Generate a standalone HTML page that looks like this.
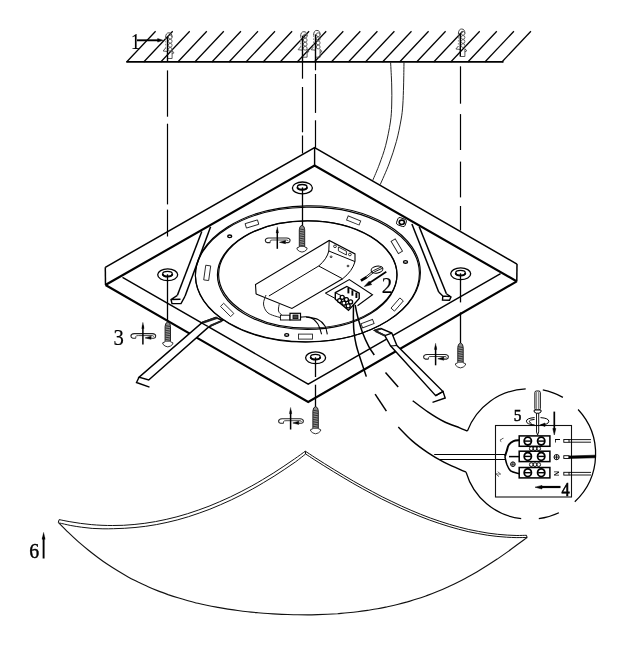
<!DOCTYPE html>
<html><head><meta charset="utf-8"><title>Installation diagram</title>
<style>
html,body{margin:0;padding:0;background:#fff;overflow:hidden;}
svg{display:block}
text{font-family:"Liberation Serif",serif;fill:#000;stroke:#000;stroke-width:0.18px}
svg{will-change:transform;opacity:0.999}
</style></head><body>
<svg width="627" height="649" viewBox="0 0 627 649">
<rect width="627" height="649" fill="#fff"/>
<g fill="none" stroke="#000" stroke-linecap="butt" stroke-linejoin="miter">
<line x1="126.3" y1="61.9" x2="503.5" y2="61.9" stroke-width="1.6" />
<line x1="126.6" y1="62.0" x2="155.6" y2="31.2" stroke-width="1.25" />
<line x1="143.7" y1="62.0" x2="172.7" y2="31.2" stroke-width="1.25" />
<line x1="160.7" y1="62.0" x2="189.7" y2="31.2" stroke-width="1.25" />
<line x1="177.8" y1="62.0" x2="206.8" y2="31.2" stroke-width="1.25" />
<line x1="194.8" y1="62.0" x2="223.8" y2="31.2" stroke-width="1.25" />
<line x1="211.9" y1="62.0" x2="240.9" y2="31.2" stroke-width="1.25" />
<line x1="229.0" y1="62.0" x2="258.0" y2="31.2" stroke-width="1.25" />
<line x1="246.0" y1="62.0" x2="275.0" y2="31.2" stroke-width="1.25" />
<line x1="263.1" y1="62.0" x2="292.1" y2="31.2" stroke-width="1.25" />
<line x1="280.1" y1="62.0" x2="309.1" y2="31.2" stroke-width="1.25" />
<line x1="297.2" y1="62.0" x2="326.2" y2="31.2" stroke-width="1.25" />
<line x1="314.3" y1="62.0" x2="343.3" y2="31.2" stroke-width="1.25" />
<line x1="331.3" y1="62.0" x2="360.3" y2="31.2" stroke-width="1.25" />
<line x1="348.4" y1="62.0" x2="377.4" y2="31.2" stroke-width="1.25" />
<line x1="365.4" y1="62.0" x2="394.4" y2="31.2" stroke-width="1.25" />
<line x1="382.5" y1="62.0" x2="411.5" y2="31.2" stroke-width="1.25" />
<line x1="399.6" y1="62.0" x2="428.6" y2="31.2" stroke-width="1.25" />
<line x1="416.6" y1="62.0" x2="445.6" y2="31.2" stroke-width="1.25" />
<line x1="433.7" y1="62.0" x2="462.7" y2="31.2" stroke-width="1.25" />
<line x1="450.7" y1="62.0" x2="479.7" y2="31.2" stroke-width="1.25" />
<line x1="467.8" y1="62.0" x2="496.8" y2="31.2" stroke-width="1.25" />
<line x1="484.9" y1="62.0" x2="513.9" y2="31.2" stroke-width="1.25" />
<line x1="501.9" y1="62.0" x2="530.9" y2="31.2" stroke-width="1.25" />
<path d="M165.6,37.8 Q165.6,32.8 168.9,32.8 Q172.1,32.8 172.1,37.3" stroke-width="1.0" stroke="#444"/>
<ellipse cx="170.2" cy="37.1" rx="1.9" ry="1.9" stroke-width="0.9" stroke="#555"/>
<ellipse cx="170.2" cy="41.2" rx="1.9" ry="1.9" stroke-width="0.9" stroke="#555"/>
<ellipse cx="170.2" cy="45.3" rx="1.9" ry="1.9" stroke-width="0.9" stroke="#555"/>
<ellipse cx="170.2" cy="49.4" rx="1.9" ry="1.9" stroke-width="0.9" stroke="#555"/>
<line x1="165.6" y1="37.8" x2="165.6" y2="48.5" stroke-width="0.8" stroke="#777" stroke-dasharray="1.6 1.4"/>
<path d="M165.6,48.0 L163.1,51.0 L167.5,51.5" stroke-width="0.9" stroke="#444"/>
<path d="M172.1,51.0 L174.1,52.7 L172.1,53.9" stroke-width="0.9" stroke="#444"/>
<path d="M172.1,50.5 L172.1,58.5 L167.5,58.5" stroke-width="0.9" stroke="#444"/>
<line x1="167.5" y1="36.8" x2="167.5" y2="61.9" stroke-width="1.4" />
<path d="M300.6,36.7 Q300.6,31.7 303.9,31.7 Q307.1,31.7 307.1,36.2" stroke-width="1.0" stroke="#444"/>
<ellipse cx="305.2" cy="36.0" rx="1.9" ry="1.9" stroke-width="0.9" stroke="#555"/>
<ellipse cx="305.2" cy="40.1" rx="1.9" ry="1.9" stroke-width="0.9" stroke="#555"/>
<ellipse cx="305.2" cy="44.2" rx="1.9" ry="1.9" stroke-width="0.9" stroke="#555"/>
<ellipse cx="305.2" cy="48.3" rx="1.9" ry="1.9" stroke-width="0.9" stroke="#555"/>
<line x1="300.6" y1="36.7" x2="300.6" y2="47.2" stroke-width="0.8" stroke="#777" stroke-dasharray="1.6 1.4"/>
<path d="M300.6,46.7 L298.1,49.7 L302.5,50.2" stroke-width="0.9" stroke="#444"/>
<path d="M307.1,49.7 L309.1,51.400000000000006 L307.1,52.6" stroke-width="0.9" stroke="#444"/>
<path d="M307.1,49.2 L307.1,57.2 L302.5,57.2" stroke-width="0.9" stroke="#444"/>
<line x1="302.5" y1="35.7" x2="302.5" y2="61.9" stroke-width="1.4" />
<path d="M313.6,35.4 Q313.6,30.4 316.9,30.4 Q320.1,30.4 320.1,34.9" stroke-width="1.0" stroke="#444"/>
<ellipse cx="318.2" cy="34.7" rx="1.9" ry="1.9" stroke-width="0.9" stroke="#555"/>
<ellipse cx="318.2" cy="38.8" rx="1.9" ry="1.9" stroke-width="0.9" stroke="#555"/>
<ellipse cx="318.2" cy="42.9" rx="1.9" ry="1.9" stroke-width="0.9" stroke="#555"/>
<ellipse cx="318.2" cy="47.0" rx="1.9" ry="1.9" stroke-width="0.9" stroke="#555"/>
<line x1="313.6" y1="35.4" x2="313.6" y2="47.2" stroke-width="0.8" stroke="#777" stroke-dasharray="1.6 1.4"/>
<path d="M313.6,46.7 L311.1,49.7 L315.5,50.2" stroke-width="0.9" stroke="#444"/>
<path d="M320.1,49.7 L322.1,51.400000000000006 L320.1,52.6" stroke-width="0.9" stroke="#444"/>
<path d="M320.1,49.2 L320.1,57.2 L315.5,57.2" stroke-width="0.9" stroke="#444"/>
<line x1="315.5" y1="34.4" x2="315.5" y2="61.9" stroke-width="1.4" />
<path d="M458.40000000000003,34.0 Q458.40000000000003,29.0 461.7,29.0 Q464.90000000000003,29.0 464.90000000000003,33.5" stroke-width="1.0" stroke="#444"/>
<ellipse cx="463.0" cy="33.3" rx="1.9" ry="1.9" stroke-width="0.9" stroke="#555"/>
<ellipse cx="463.0" cy="37.4" rx="1.9" ry="1.9" stroke-width="0.9" stroke="#555"/>
<ellipse cx="463.0" cy="41.5" rx="1.9" ry="1.9" stroke-width="0.9" stroke="#555"/>
<ellipse cx="463.0" cy="45.6" rx="1.9" ry="1.9" stroke-width="0.9" stroke="#555"/>
<line x1="458.4" y1="34.0" x2="458.4" y2="46.5" stroke-width="0.8" stroke="#777" stroke-dasharray="1.6 1.4"/>
<path d="M458.40000000000003,46.0 L455.90000000000003,49.0 L460.3,49.5" stroke-width="0.9" stroke="#444"/>
<path d="M464.90000000000003,49.0 L466.90000000000003,50.7 L464.90000000000003,51.9" stroke-width="0.9" stroke="#444"/>
<path d="M464.90000000000003,48.5 L464.90000000000003,56.5 L460.3,56.5" stroke-width="0.9" stroke="#444"/>
<line x1="460.3" y1="33.0" x2="460.3" y2="56.5" stroke-width="1.4" />
<line x1="167.5" y1="70.4" x2="167.5" y2="116.7" stroke-width="1.2" />
<line x1="167.5" y1="123.7" x2="167.5" y2="204.4" stroke-width="1.2" />
<line x1="167.5" y1="209.6" x2="167.5" y2="236.5" stroke-width="1.2" />
<line x1="302.5" y1="61.0" x2="302.5" y2="78.7" stroke-width="1.2" />
<line x1="302.5" y1="87.0" x2="302.5" y2="132.3" stroke-width="1.2" />
<line x1="302.5" y1="135.5" x2="302.5" y2="153.5" stroke-width="1.2" />
<line x1="315.5" y1="61.0" x2="315.5" y2="70.3" stroke-width="1.2" />
<line x1="315.5" y1="74.0" x2="315.5" y2="112.9" stroke-width="1.2" />
<line x1="315.5" y1="120.3" x2="315.5" y2="147.8" stroke-width="1.2" />
<line x1="460.5" y1="66.3" x2="460.5" y2="103.7" stroke-width="1.2" />
<line x1="460.5" y1="114.1" x2="460.5" y2="150.0" stroke-width="1.2" />
<line x1="460.5" y1="161.6" x2="460.5" y2="197.4" stroke-width="1.2" />
<line x1="460.5" y1="206.0" x2="460.5" y2="230.5" stroke-width="1.2" />
<path d="M390.6,62.3 C390.8,66.1 391.5,77.9 391.7,85.0 C391.9,92.1 391.9,98.8 391.7,105.0 C391.5,111.2 391.4,115.2 390.4,122.0 C389.4,128.8 387.4,138.7 385.6,145.7 C383.8,152.7 381.6,158.2 379.5,164.0 C377.4,169.8 373.8,177.8 372.7,180.5" stroke-width="1.0" stroke="#222"/>
<path d="M404.0,62.3 C403.9,66.1 403.8,77.9 403.6,85.0 C403.4,92.1 403.2,99.2 402.8,105.0 C402.4,110.8 402.1,113.9 401.0,120.0 C399.9,126.1 398.4,134.1 396.4,141.4 C394.4,148.7 391.7,156.8 389.0,164.0 C386.3,171.2 381.7,181.2 380.2,184.6" stroke-width="1.0" stroke="#222"/>
<path d="M105.3,267.3 L314.6,147.5 L517.0,264.1" stroke-width="1.5" />
<line x1="314.6" y1="147.5" x2="314.6" y2="165.5" stroke-width="1.4" />
<line x1="105.3" y1="267.3" x2="105.5" y2="285.0" stroke-width="1.5" />
<line x1="517.0" y1="264.1" x2="516.8" y2="281.4" stroke-width="1.5" />
<path d="M105.8,284.8 L314.6,165.5 L516.5,281.2" stroke-width="2.15" />
<path d="M105.5,285 L308.2,402.0 L516.8,281.4" stroke-width="2.1" />
<path d="M122.5,277.3 L308.2,384.2 L500.6,273.7" stroke-width="1.35" />
<g transform="rotate(-0.9 307.66 274.2)">
<ellipse cx="307.9" cy="273.8" rx="112.5" ry="68.0" stroke-width="1.15" />
<ellipse cx="307.4" cy="274.6" rx="112.0" ry="67.4" stroke-width="1.15" />
</g>
<ellipse cx="307.8" cy="274.4" rx="89.2" ry="53.7" stroke-width="1.15" />
<ellipse cx="307.2" cy="275.1" rx="89.8" ry="54.3" stroke-width="1.15" />
<path d="M59.2,519.6 C61.0,520.0 66.4,521.1 69.9,521.7 C73.5,522.3 77.1,522.9 80.6,523.4 C84.2,523.9 87.8,524.3 91.3,524.6 C94.9,524.9 98.5,525.2 102.0,525.3 C105.6,525.5 109.2,525.5 112.7,525.5 C116.3,525.5 119.9,525.4 123.4,525.3 C127.0,525.1 130.6,524.8 134.1,524.5 C137.7,524.2 141.3,523.8 144.8,523.3 C148.4,522.8 152.0,522.2 155.5,521.6 C159.1,520.9 162.7,520.2 166.2,519.4 C169.8,518.6 173.4,517.7 176.9,516.8 C180.5,515.8 184.1,514.8 187.6,513.7 C191.2,512.6 194.8,511.4 198.3,510.1 C201.9,508.9 205.5,507.6 209.0,506.2 C212.6,504.8 216.2,503.3 219.7,501.7 C223.3,500.2 226.8,498.6 230.4,496.9 C234.0,495.2 237.5,493.4 241.1,491.6 C244.7,489.8 248.2,487.8 251.8,485.9 C255.4,483.9 258.9,481.9 262.5,479.7 C266.1,477.6 269.6,475.4 273.2,473.2 C276.8,470.9 280.3,468.6 283.9,466.2 C287.5,463.8 291.0,461.4 294.6,458.9 C298.2,456.4 303.5,452.5 305.3,451.2" stroke-width="1.0" stroke="#111"/>
<path d="M305.3,451.2 C306.9,452.2 311.7,455.4 314.9,457.5 C318.1,459.5 321.3,461.6 324.5,463.6 C327.7,465.6 330.9,467.6 334.2,469.6 C337.4,471.6 340.6,473.5 343.8,475.4 C347.0,477.3 350.2,479.2 353.4,481.1 C356.6,482.9 359.8,484.7 363.0,486.5 C366.2,488.3 369.4,490.0 372.6,491.7 C375.8,493.5 379.0,495.1 382.2,496.8 C385.4,498.4 388.7,500.0 391.9,501.5 C395.1,503.1 398.3,504.6 401.5,506.1 C404.7,507.5 407.9,508.9 411.1,510.3 C414.3,511.7 417.5,513.0 420.7,514.3 C423.9,515.6 427.1,516.8 430.3,518.0 C433.5,519.1 436.7,520.3 439.9,521.3 C443.1,522.4 446.4,523.4 449.6,524.4 C452.8,525.3 456.0,526.2 459.2,527.1 C462.4,527.9 465.6,528.7 468.8,529.5 C472.0,530.2 475.2,530.8 478.4,531.4 C481.6,532.0 484.8,532.6 488.0,533.1 C491.2,533.5 494.4,533.9 497.6,534.3 C500.9,534.6 504.1,534.9 507.3,535.1 C510.5,535.3 513.7,535.4 516.9,535.5 C520.1,535.5 524.9,535.3 526.5,535.3" stroke-width="1.0" stroke="#111"/>
<path d="M59.5,523.0 C61.4,523.4 67.2,524.8 70.8,525.5 C74.5,526.2 78.0,526.7 81.5,527.2 C85.1,527.7 88.7,528.1 92.2,528.4 C95.8,528.6 99.4,528.7 102.9,528.8 C106.5,528.9 110.1,528.8 113.6,528.7 C117.2,528.6 120.8,528.5 124.3,528.3 C127.9,528.1 131.5,527.8 135.0,527.5 C138.6,527.2 142.2,526.8 145.7,526.3 C149.3,525.8 152.9,525.2 156.4,524.6 C160.0,523.9 163.6,523.2 167.1,522.4 C170.7,521.6 174.3,520.7 177.8,519.8 C181.4,518.8 185.0,517.8 188.5,516.7 C192.1,515.6 195.7,514.4 199.2,513.1 C202.8,511.9 206.4,510.6 209.9,509.2 C213.5,507.8 217.1,506.3 220.6,504.7 C224.2,503.2 227.7,501.6 231.3,499.9 C234.9,498.2 238.4,496.4 242.0,494.6 C245.6,492.8 249.1,490.8 252.7,488.9 C256.3,486.9 259.8,484.9 263.4,482.7 C267.0,480.6 270.5,478.4 274.1,476.2 C277.7,473.9 281.2,471.6 284.8,469.2 C288.4,466.8 292.0,464.4 295.5,461.9 C299.0,459.3 303.9,455.3 305.6,454.0" stroke-width="1.0" stroke="#111"/>
<path d="M305.6,454.0 C307.0,454.9 311.2,457.6 314.2,459.6 C317.3,461.5 320.6,463.7 323.8,465.7 C327.0,467.7 330.2,469.7 333.5,471.7 C336.7,473.7 339.9,475.6 343.1,477.5 C346.3,479.4 349.5,481.3 352.7,483.2 C355.9,485.0 359.1,486.8 362.3,488.6 C365.5,490.4 368.7,492.1 371.9,493.8 C375.1,495.6 378.3,497.2 381.5,498.9 C384.7,500.5 388.0,502.1 391.2,503.6 C394.4,505.2 397.6,506.7 400.8,508.2 C404.0,509.6 407.2,511.0 410.4,512.4 C413.6,513.8 416.8,515.1 420.0,516.4 C423.2,517.7 426.4,518.9 429.6,520.1 C432.8,521.2 436.0,522.4 439.2,523.4 C442.4,524.5 445.7,525.5 448.9,526.5 C452.1,527.4 455.3,528.3 458.5,529.2 C461.7,530.0 464.9,530.8 468.1,531.6 C471.3,532.3 474.5,532.9 477.7,533.5 C480.9,534.1 484.1,534.7 487.3,535.2 C490.5,535.6 493.7,536.0 496.9,536.4 C500.2,536.7 503.4,537.0 506.6,537.2 C509.8,537.4 512.8,537.5 516.2,537.6 C519.6,537.6 525.3,537.5 527.1,537.5" stroke-width="1.0" stroke="#111"/>
<path d="M58.3,522.4 C60.0,524.1 64.9,529.2 68.3,532.4 C71.6,535.6 74.9,538.7 78.2,541.6 C81.6,544.5 84.9,547.3 88.2,550.0 C91.5,552.7 94.9,555.3 98.2,557.7 C101.5,560.2 104.8,562.5 108.2,564.8 C111.5,567.0 114.8,569.1 118.1,571.1 C121.5,573.2 124.8,575.1 128.1,576.9 C131.4,578.7 134.8,580.4 138.1,582.1 C141.4,583.7 144.7,585.3 148.1,586.7 C151.4,588.2 154.7,589.6 158.0,590.9 C161.4,592.2 164.7,593.4 168.0,594.6 C171.3,595.7 174.7,596.8 178.0,597.8 C181.3,598.9 184.6,599.8 188.0,600.7 C191.3,601.6 194.6,602.5 197.9,603.3 C201.3,604.1 204.6,604.8 207.9,605.5 C211.2,606.2 214.6,606.8 217.9,607.4 C221.2,608.0 224.5,608.6 227.9,609.1 C231.2,609.6 234.5,610.1 237.8,610.5 C241.2,611.0 244.5,611.4 247.8,611.7 C251.1,612.1 254.5,612.4 257.8,612.7 C261.1,613.0 264.4,613.3 267.8,613.5 C271.1,613.7 274.4,613.9 277.7,614.1 C281.1,614.3 284.4,614.4 287.7,614.5 C291.0,614.6 294.4,614.7 297.7,614.7 C301.0,614.8 304.3,614.8 307.7,614.8 C311.0,614.8 314.3,614.7 317.6,614.6 C321.0,614.5 324.3,614.4 327.6,614.3 C330.9,614.1 334.3,613.9 337.6,613.7 C340.9,613.4 344.2,613.2 347.6,612.8 C350.9,612.5 354.2,612.2 357.5,611.8 C360.9,611.4 364.2,610.9 367.5,610.4 C370.8,609.9 374.2,609.4 377.5,608.8 C380.8,608.2 384.1,607.5 387.5,606.8 C390.8,606.1 394.1,605.4 397.4,604.5 C400.8,603.7 404.1,602.8 407.4,601.9 C410.7,600.9 414.1,599.9 417.4,598.8 C420.7,597.8 424.0,596.6 427.4,595.4 C430.7,594.2 434.0,592.9 437.3,591.5 C440.7,590.2 444.0,588.8 447.3,587.2 C450.6,585.7 454.0,584.2 457.3,582.5 C460.6,580.9 463.9,579.1 467.3,577.3 C470.6,575.5 473.9,573.6 477.2,571.7 C480.6,569.7 483.9,567.7 487.2,565.6 C490.5,563.5 493.9,561.3 497.2,559.1 C500.5,556.8 503.8,554.5 507.2,552.1 C510.5,549.8 513.8,547.3 517.1,544.8 C520.5,542.4 525.4,538.7 527.1,537.5" stroke-width="1.15" stroke="#111"/>
<line x1="59.2" y1="519.6" x2="58.3" y2="522.4" stroke-width="1.0" />
<line x1="526.5" y1="535.3" x2="527.1" y2="537.5" stroke-width="1.0" />
<line x1="305.3" y1="451.2" x2="305.6" y2="454.0" stroke-width="1.0" />
<rect x="204.7" y="265.5" width="5" height="14.8" stroke-width="0.9" stroke="#222" transform="rotate(8 207.2 272.9)"/>
<rect x="245.5" y="221.7" width="12.9" height="4.6" stroke-width="0.9" stroke="#222" transform="rotate(-17 251.9 224)"/>
<rect x="346.9" y="218.2" width="13.5" height="4.4" stroke-width="0.9" stroke="#222" transform="rotate(22 353.6 220.4)"/>
<rect x="394.4" y="239.2" width="4.8" height="14.2" stroke-width="0.9" stroke="#222" transform="rotate(-31 396.8 246.3)"/>
<rect x="394.9" y="297.8" width="4.6" height="13.5" stroke-width="0.9" stroke="#222" transform="rotate(41 397.2 304.5)"/>
<rect x="361.4" y="321.4" width="12.3" height="4.5" stroke-width="0.9" stroke="#222" transform="rotate(-21 367.5 323.6)"/>
<rect x="298.5" y="334.1" width="14" height="5" stroke-width="0.9" stroke="#222" transform="rotate(0 305.5 336.6)"/>
<rect x="224.9" y="302.7" width="4.5" height="14.4" stroke-width="0.9" stroke="#222" transform="rotate(-45 227.2 309.9)"/>
<ellipse cx="229.7" cy="236.3" rx="2.0" ry="1.3" stroke-width="1.4" />
<ellipse cx="286.7" cy="334.9" rx="2.0" ry="1.3" stroke-width="1.4" />
<ellipse cx="405.5" cy="261.9" rx="2.0" ry="1.3" stroke-width="1.4" />
<rect x="397" y="218.3" width="9" height="7.6" rx="2" stroke-width="0.9" transform="rotate(20 401.5 222)"/>
<ellipse cx="401.8" cy="222.3" rx="2.6" ry="2.2" stroke-width="1.6" />
<line x1="201.8" y1="231.5" x2="177.4" y2="295.3" stroke-width="1.5" />
<line x1="210.6" y1="226.7" x2="185.1" y2="296.1" stroke-width="1.5" />
<path d="M177.4,295.3 L171,299.5 L172,303.6 L181,303.6 L185.1,296.1 M171,299.5 L180.5,299.2" stroke-width="1.4" />
<line x1="411.9" y1="223.9" x2="438.7" y2="291.9" stroke-width="1.5" />
<line x1="419.2" y1="226.8" x2="446.4" y2="293.8" stroke-width="1.5" />
<path d="M438.7,291.9 L442.8,296 L442.5,300 L449.5,300.3 L451,297 L446.4,293.8 M442.8,296 L450.5,296.6" stroke-width="1.4" />
<path d="M215.5,317.5 L222.5,320.4 L209,326.7 L148.7,380 L139.1,377.1 L202.3,322.5 Z" stroke-width="1.5" fill="#fff"/>
<path d="M139.1,377.1 L136.5,382.5 L149.5,387.2" stroke-width="1.4" />
<line x1="202.6" y1="322.6" x2="217.5" y2="317.6" stroke-width="2.2" stroke="#222"/>
<line x1="210.5" y1="325.6" x2="222.0" y2="320.8" stroke-width="1.9" stroke="#222"/>
<line x1="201.6" y1="323.0" x2="207.8" y2="326.4" stroke-width="1.3" />
<path d="M374.6,330.5 L381,328.6 L391.8,333.1 L396.9,345.5 L443,391.5 L435.7,395.7 L390.5,345.8 L384.8,335.6 Z" stroke-width="1.4" fill="#fff"/>
<path d="M384.8,335.6 L391.8,333.1" stroke-width="1.2" />
<path d="M435.7,395.7 L443,391.5 L445.2,398 L432.5,402.3" stroke-width="1.4" />
<line x1="374.6" y1="330.5" x2="381.0" y2="328.6" stroke-width="1.9" stroke="#222"/>
<line x1="375.5" y1="331.2" x2="384.8" y2="335.6" stroke-width="1.9" stroke="#222"/>
<line x1="390.5" y1="346.0" x2="396.9" y2="345.5" stroke-width="1.2" />
<path d="M256.1,294.1 L255.5,284.5 L329.2,240.5 L355,253.9 L355,261.6" stroke-width="1.1" fill="#fff"/>
<path d="M329.2,240.5 L328.8,251 L355,261.6" stroke-width="1.0" />
<path d="M328.8,251 Q327,259 318.7,266" stroke-width="1.0" />
<path d="M355,261.6 Q352.5,271 342.6,278.8" stroke-width="1.0" />
<line x1="268.9" y1="296.0" x2="318.7" y2="266.0" stroke-width="1.0" />
<line x1="318.7" y1="266.0" x2="342.6" y2="278.8" stroke-width="1.0" />
<path d="M256.1,294.1 L291.9,308.5 L342.6,278.8" stroke-width="1.1" />
<ellipse cx="335.0" cy="246.3" rx="1.4" ry="1.3" stroke-width="0.8" />
<ellipse cx="349.9" cy="254.5" rx="1.4" ry="1.3" stroke-width="0.8" />
<path d="M338.4,247 L346.4,251.2 L346.4,255 L338.4,250.8 Z" stroke-width="0.8" />
<ellipse cx="331.1" cy="256.8" rx="1.0" ry="0.8" stroke-width="0.8" />
<ellipse cx="348.0" cy="266.0" rx="1.0" ry="0.8" stroke-width="0.8" />
<path d="M266.0,295.0 C265.6,296.5 263.2,301.0 263.5,304.0 C263.8,307.0 265.2,310.8 268.0,313.0 C270.8,315.2 278.0,316.8 280.0,317.5" stroke-width="1.0" stroke="#222"/>
<path d="M279.5,303.0 C279.3,304.3 278.0,308.9 278.5,311.0 C279.0,313.1 281.8,314.8 282.5,315.5" stroke-width="1.0" stroke="#222"/>
<rect x="280.4" y="315.2" width="9.6" height="4.8" stroke-width="0.9" fill="#fff"/>
<rect x="290" y="313.3" width="10.5" height="6.7" stroke-width="1.2" fill="#fff"/>
<rect x="293" y="315" width="5" height="3.6" stroke-width="0.8" fill="#444"/>
<path d="M300.5,317.1 C302.1,317.1 307.1,316.2 310.0,317.3 C312.9,318.4 315.8,321.0 317.7,323.8 C319.6,326.6 321.0,332.6 321.6,334.3" stroke-width="1.1" />
<path d="M306.0,317.0 C308.0,317.4 314.8,318.0 318.0,319.5 C321.2,321.0 323.4,323.5 325.0,326.0 C326.6,328.5 326.9,332.9 327.3,334.3" stroke-width="1.1" />
<path d="M325.4,293.2 L349.3,279.6 L372.5,294.8 L357.5,305.8" stroke-width="1.1" />
<path d="M325.4,293.2 L340,301" stroke-width="1.0" />
<path d="M335.3,292.7 L346.8,286.5 L359.2,293.2 L359.2,298.5 L348.5,310.4 L335.3,299.2 Z" stroke-width="1.4" fill="#fff"/>
<path d="M335.3,292.7 L346.5,298.3 L347.5,297.8" stroke-width="1.0" />
<ellipse cx="339.6" cy="300.6" rx="2.0" ry="2.0" stroke-width="1.3" fill="#fff"/>
<ellipse cx="343.9" cy="303.2" rx="2.0" ry="2.0" stroke-width="1.3" fill="#fff"/>
<ellipse cx="348.2" cy="305.9" rx="2.0" ry="2.0" stroke-width="1.3" fill="#fff"/>
<ellipse cx="342.2" cy="297.3" rx="2.0" ry="2.0" stroke-width="1.3" fill="#fff"/>
<ellipse cx="346.4" cy="299.6" rx="2.0" ry="2.0" stroke-width="1.3" fill="#fff"/>
<ellipse cx="350.6" cy="301.9" rx="2.0" ry="2.0" stroke-width="1.3" fill="#fff"/>
<line x1="348.4" y1="288.0" x2="348.4" y2="293.4" stroke-width="1.9" />
<line x1="352.4" y1="290.3" x2="352.4" y2="295.7" stroke-width="1.9" />
<line x1="356.4" y1="292.6" x2="356.4" y2="298.0" stroke-width="1.9" />
<ellipse cx="377" cy="269.6" rx="6" ry="3.4" stroke-width="1.0" transform="rotate(-12 377 269.6)"/>
<path d="M381.5,266.8 L373.4,270.6 L366,276.6 M382.6,268.2 L374.4,271.9 L366.9,277.9" stroke-width="0.9" />
<line x1="366.6" y1="277.1" x2="360.9" y2="280.7" stroke-width="2.7" />
<line x1="386.3" y1="271.8" x2="369.0" y2="283.2" stroke-width="1.7" />
<path d="M364.3,286.5 L369.2,281.2 L371.6,284.6 Z" stroke-width="0.6" fill="#000"/>
<ellipse cx="167.7" cy="274.8" rx="10.0" ry="5.9" stroke-width="1.3" fill="#fff"/>
<ellipse cx="167.5" cy="273.9" rx="4.8" ry="2.5" stroke-width="1.3" />
<path d="M162.7,274.1 A4.8,2.5 0 0 0 172.29999999999998,274.1" stroke-width="1.9" />
<ellipse cx="302.4" cy="187.9" rx="10.0" ry="5.9" stroke-width="1.3" fill="#fff"/>
<ellipse cx="302.2" cy="187.0" rx="4.8" ry="2.5" stroke-width="1.3" />
<path d="M297.4,187.20000000000002 A4.8,2.5 0 0 0 307.0,187.20000000000002" stroke-width="1.9" />
<ellipse cx="460.7" cy="273.8" rx="10.0" ry="5.9" stroke-width="1.3" fill="#fff"/>
<ellipse cx="460.5" cy="272.9" rx="4.8" ry="2.5" stroke-width="1.3" />
<path d="M455.7,273.1 A4.8,2.5 0 0 0 465.3,273.1" stroke-width="1.9" />
<ellipse cx="315.6" cy="357.8" rx="10.0" ry="5.9" stroke-width="1.3" fill="#fff"/>
<ellipse cx="315.4" cy="356.9" rx="4.8" ry="2.5" stroke-width="1.3" />
<path d="M310.6,357.1 A4.8,2.5 0 0 0 320.20000000000005,357.1" stroke-width="1.9" />
<path d="M165.10000000000002,341.8 L165.10000000000002,326.5 Q165.20000000000002,322.5 167.8,322.0 Q170.4,322.5 170.5,326.5 L170.5,341.8 Z" stroke-width="1.0" fill="#8c8c8c" stroke="#222"/>
<line x1="165.2" y1="325.6" x2="170.4" y2="326.6" stroke-width="1.0" stroke="#333"/>
<line x1="165.2" y1="327.9" x2="170.4" y2="328.9" stroke-width="1.0" stroke="#333"/>
<line x1="165.2" y1="330.2" x2="170.4" y2="331.2" stroke-width="1.0" stroke="#333"/>
<line x1="165.2" y1="332.5" x2="170.4" y2="333.5" stroke-width="1.0" stroke="#333"/>
<line x1="165.2" y1="334.8" x2="170.4" y2="335.8" stroke-width="1.0" stroke="#333"/>
<line x1="165.2" y1="337.1" x2="170.4" y2="338.1" stroke-width="1.0" stroke="#333"/>
<line x1="165.2" y1="339.4" x2="170.4" y2="340.4" stroke-width="1.0" stroke="#333"/>
<path d="M165.10000000000002,341.8 L162.8,342.7 L162.8,344.1 Q164.8,346.6 167.8,346.90000000000003 Q170.8,346.6 172.8,344.1 L172.8,342.7 L170.5,341.8" stroke-width="1.0" fill="#fff" stroke="#333"/>
<path d="M299.3,247.0 L299.3,229.8 Q299.4,225.8 302.0,225.3 Q304.6,225.8 304.7,229.8 L304.7,247.0 Z" stroke-width="1.0" fill="#8c8c8c" stroke="#222"/>
<line x1="299.4" y1="228.9" x2="304.6" y2="229.9" stroke-width="1.0" stroke="#333"/>
<line x1="299.4" y1="231.2" x2="304.6" y2="232.2" stroke-width="1.0" stroke="#333"/>
<line x1="299.4" y1="233.5" x2="304.6" y2="234.5" stroke-width="1.0" stroke="#333"/>
<line x1="299.4" y1="235.8" x2="304.6" y2="236.8" stroke-width="1.0" stroke="#333"/>
<line x1="299.4" y1="238.1" x2="304.6" y2="239.1" stroke-width="1.0" stroke="#333"/>
<line x1="299.4" y1="240.4" x2="304.6" y2="241.4" stroke-width="1.0" stroke="#333"/>
<line x1="299.4" y1="242.7" x2="304.6" y2="243.7" stroke-width="1.0" stroke="#333"/>
<line x1="299.4" y1="245.0" x2="304.6" y2="246.0" stroke-width="1.0" stroke="#333"/>
<path d="M299.3,247.0 L297.0,247.9 L297.0,249.3 Q299.0,251.8 302.0,252.1 Q305.0,251.8 307.0,249.3 L307.0,247.9 L304.7,247.0" stroke-width="1.0" fill="#fff" stroke="#333"/>
<path d="M312.90000000000003,428.70000000000005 L312.90000000000003,411.1 Q313.0,407.1 315.6,406.6 Q318.20000000000005,407.1 318.3,411.1 L318.3,428.70000000000005 Z" stroke-width="1.0" fill="#8c8c8c" stroke="#222"/>
<line x1="313.0" y1="410.2" x2="318.2" y2="411.2" stroke-width="1.0" stroke="#333"/>
<line x1="313.0" y1="412.5" x2="318.2" y2="413.5" stroke-width="1.0" stroke="#333"/>
<line x1="313.0" y1="414.8" x2="318.2" y2="415.8" stroke-width="1.0" stroke="#333"/>
<line x1="313.0" y1="417.1" x2="318.2" y2="418.1" stroke-width="1.0" stroke="#333"/>
<line x1="313.0" y1="419.4" x2="318.2" y2="420.4" stroke-width="1.0" stroke="#333"/>
<line x1="313.0" y1="421.7" x2="318.2" y2="422.7" stroke-width="1.0" stroke="#333"/>
<line x1="313.0" y1="424.0" x2="318.2" y2="425.0" stroke-width="1.0" stroke="#333"/>
<line x1="313.0" y1="426.3" x2="318.2" y2="427.3" stroke-width="1.0" stroke="#333"/>
<path d="M312.90000000000003,428.70000000000005 L310.6,429.6 L310.6,431.00000000000006 Q312.6,433.50000000000006 315.6,433.80000000000007 Q318.6,433.50000000000006 320.6,431.00000000000006 L320.6,429.6 L318.3,428.70000000000005" stroke-width="1.0" fill="#fff" stroke="#333"/>
<path d="M457.8,362.8 L457.8,347.5 Q457.9,343.5 460.5,343.0 Q463.1,343.5 463.2,347.5 L463.2,362.8 Z" stroke-width="1.0" fill="#8c8c8c" stroke="#222"/>
<line x1="457.9" y1="346.6" x2="463.1" y2="347.6" stroke-width="1.0" stroke="#333"/>
<line x1="457.9" y1="348.9" x2="463.1" y2="349.9" stroke-width="1.0" stroke="#333"/>
<line x1="457.9" y1="351.2" x2="463.1" y2="352.2" stroke-width="1.0" stroke="#333"/>
<line x1="457.9" y1="353.5" x2="463.1" y2="354.5" stroke-width="1.0" stroke="#333"/>
<line x1="457.9" y1="355.8" x2="463.1" y2="356.8" stroke-width="1.0" stroke="#333"/>
<line x1="457.9" y1="358.1" x2="463.1" y2="359.1" stroke-width="1.0" stroke="#333"/>
<line x1="457.9" y1="360.4" x2="463.1" y2="361.4" stroke-width="1.0" stroke="#333"/>
<path d="M457.8,362.8 L455.5,363.7 L455.5,365.1 Q457.5,367.6 460.5,367.90000000000003 Q463.5,367.6 465.5,365.1 L465.5,363.7 L463.2,362.8" stroke-width="1.0" fill="#fff" stroke="#333"/>
<line x1="167.5" y1="274.3" x2="167.5" y2="321.5" stroke-width="1.3" />
<line x1="302.5" y1="187.4" x2="302.5" y2="225.5" stroke-width="1.3" />
<line x1="460.5" y1="273.3" x2="460.5" y2="302.4" stroke-width="1.3" />
<line x1="460.5" y1="312.4" x2="460.5" y2="343.0" stroke-width="1.3" />
<line x1="315.5" y1="357.3" x2="315.5" y2="377.0" stroke-width="1.3" />
<line x1="315.5" y1="384.7" x2="315.5" y2="406.8" stroke-width="1.3" />
<path d="M135.8,338.20000000000005 L132.8,338.20000000000005 Q130.9,337.90000000000003 130.9,336.1 Q130.9,333.90000000000003 134.3,333.6 L152.3,333.6 Q155.70000000000002,333.90000000000003 155.70000000000002,335.90000000000003 Q155.70000000000002,337.90000000000003 153.8,338.20000000000005 L151.3,338.20000000000005" stroke-width="1.1" stroke="#222" fill="#fff"/>
<path d="M135.8,338.20000000000005 L135.8,336.50000000000006 Q135.8,335.6 138.3,335.6 L152.3,335.6 Q153.70000000000002,335.70000000000005 153.70000000000002,336.70000000000005" stroke-width="0.9" stroke="#333"/>
<path d="M145.10000000000002,337.90000000000003 L151.10000000000002,336.20000000000005 L151.10000000000002,339.3 Z" stroke-width="0.5" fill="#000"/>
<line x1="142.9" y1="325.6" x2="142.9" y2="344.4" stroke-width="1.5" />
<path d="M142.9,322.3 L141.70000000000002,328.6 L144.1,328.6 Z" stroke-width="0.3" fill="#000"/>
<path d="M270.2,242.60000000000002 L267.2,242.60000000000002 Q265.3,242.3 265.3,240.5 Q265.3,238.3 268.7,238.0 L286.7,238.0 Q290.09999999999997,238.3 290.09999999999997,240.3 Q290.09999999999997,242.3 288.2,242.60000000000002 L285.7,242.60000000000002" stroke-width="1.1" stroke="#222" fill="#fff"/>
<path d="M270.2,242.60000000000002 L270.2,240.9 Q270.2,240.0 272.7,240.0 L286.7,240.0 Q288.09999999999997,240.10000000000002 288.09999999999997,241.10000000000002" stroke-width="0.9" stroke="#333"/>
<path d="M279.5,242.3 L285.5,240.60000000000002 L285.5,243.70000000000002 Z" stroke-width="0.5" fill="#000"/>
<line x1="277.3" y1="230.0" x2="277.3" y2="248.8" stroke-width="1.5" />
<path d="M277.3,226.7 L276.1,233.0 L278.5,233.0 Z" stroke-width="0.3" fill="#000"/>
<path d="M283.5,423.3 L280.5,423.3 Q278.6,423.0 278.6,421.2 Q278.6,419.0 282.0,418.7 L300.0,418.7 Q303.4,419.0 303.4,421.0 Q303.4,423.0 301.5,423.3 L299.0,423.3" stroke-width="1.1" stroke="#222" fill="#fff"/>
<path d="M283.5,423.3 L283.5,421.6 Q283.5,420.7 286.0,420.7 L300.0,420.7 Q301.4,420.8 301.4,421.8" stroke-width="0.9" stroke="#333"/>
<path d="M292.8,423.0 L298.8,421.3 L298.8,424.4 Z" stroke-width="0.5" fill="#000"/>
<line x1="290.6" y1="410.7" x2="290.6" y2="429.5" stroke-width="1.5" />
<path d="M290.6,407.4 L289.40000000000003,413.7 L291.8,413.7 Z" stroke-width="0.3" fill="#000"/>
<path d="M428.5,359.1 L425.5,359.1 Q423.6,358.8 423.6,357.0 Q423.6,354.8 427.0,354.5 L445.0,354.5 Q448.4,354.8 448.4,356.8 Q448.4,358.8 446.5,359.1 L444.0,359.1" stroke-width="1.1" stroke="#222" fill="#fff"/>
<path d="M428.5,359.1 L428.5,357.40000000000003 Q428.5,356.5 431.0,356.5 L445.0,356.5 Q446.4,356.6 446.4,357.6" stroke-width="0.9" stroke="#333"/>
<path d="M437.8,358.8 L443.8,357.1 L443.8,360.2 Z" stroke-width="0.5" fill="#000"/>
<line x1="435.6" y1="346.5" x2="435.6" y2="365.3" stroke-width="1.5" />
<path d="M435.6,343.2 L434.40000000000003,349.5 L436.8,349.5 Z" stroke-width="0.3" fill="#000"/>
<text transform="translate(131.0 48.8) scale(0.8 1)" style="font-size:22.5px;stroke-width:0.2px">1</text>
<line x1="137.0" y1="40.3" x2="159.0" y2="40.3" stroke-width="1.9" />
<path d="M163.3,40.3 L157.6,38.5 L157.6,42.1 Z" stroke-width="0.4" fill="#000"/>
<text transform="translate(381.8 292.9) scale(0.9 1)" style="font-size:23.3px;stroke-width:0.2px">2</text>
<text transform="translate(113.6 345.4) scale(0.88 1)" style="font-size:23.5px;stroke-width:0.2px">3</text>
<text transform="translate(29.3 557.7) scale(0.97 1)" style="font-size:20.5px;stroke-width:0.4px">6</text>
<line x1="43.6" y1="537.0" x2="43.6" y2="558.5" stroke-width="1.9" />
<path d="M43.6,532.3 L42.0,539.3 L45.2,539.3 Z" stroke-width="0.3" fill="#000"/>
<path d="M355.2,304.8 C355.6,306.7 356.3,311.5 357.5,316.0 C358.7,320.5 360.4,326.8 362.3,331.9 C364.2,336.9 366.7,342.4 368.7,346.3 C370.7,350.2 373.4,353.6 374.3,355.0" stroke-width="1.5" />
<line x1="385.5" y1="372.6" x2="398.2" y2="386.9" stroke-width="1.5" />
<path d="M412.7,400.7 C415.2,402.6 422.6,408.4 427.8,411.9 C433.0,415.4 438.5,418.9 443.8,421.5 C449.1,424.1 455.8,426.2 459.7,427.8 C463.6,429.4 466.1,430.5 467.4,431.0" stroke-width="1.4" />
<path d="M353.5,304.8 C353.5,307.2 353.3,314.6 353.4,319.1 C353.5,323.6 353.5,327.7 354.0,332.0 C354.5,336.3 355.3,341.1 356.2,345.0 C357.1,348.9 358.1,351.8 359.3,355.5 C360.5,359.2 361.9,363.5 363.1,367.0 C364.3,370.5 365.8,375.0 366.3,376.6" stroke-width="1.5" />
<line x1="375.1" y1="394.1" x2="386.4" y2="411.1" stroke-width="1.5" />
<path d="M398.3,427.0 C400.6,429.3 407.0,436.3 411.9,440.6 C416.8,444.9 422.5,449.0 427.8,452.6 C433.1,456.2 438.5,459.3 443.8,462.1 C449.1,464.9 456.0,467.6 459.7,469.3 C463.4,471.0 465.0,471.7 466.1,472.2" stroke-width="1.4" />
<line x1="434.2" y1="454.5" x2="505.0" y2="454.5" stroke-width="1.1" />
<line x1="439.8" y1="459.5" x2="505.0" y2="459.5" stroke-width="1.1" />
<path d="M467.4,431 A65.3,65.3 0 0 1 525.7,388.9" stroke-width="1.25" />
<path d="M542.8,389.9 A65.3,65.3 0 0 1 562.9,397.4" stroke-width="1.25" />
<path d="M578.1,409.5 A65.3,65.3 0 0 1 574.8,501.8" stroke-width="1.25" />
<path d="M558.9,512.7 A65.3,65.3 0 0 1 538.8,518.7" stroke-width="1.25" />
<path d="M521.2,518.7 A65.3,65.3 0 0 1 466.1,472.2" stroke-width="1.25" />
<rect x="495.5" y="425.5" width="76" height="71.5" stroke-width="1.1" stroke="#111"/>
<rect x="519.2" y="435.9" width="30.7" height="10.4" stroke-width="1.5" fill="#fff"/>
<ellipse cx="527.8" cy="441.1" rx="3.6" ry="3.9" stroke-width="1.8" />
<line x1="524.8" y1="441.1" x2="530.8" y2="441.1" stroke-width="1.4" />
<ellipse cx="541.2" cy="441.1" rx="3.6" ry="3.9" stroke-width="1.8" />
<line x1="538.2" y1="441.1" x2="544.2" y2="441.1" stroke-width="1.4" />
<rect x="519.2" y="451.2" width="30.7" height="10.4" stroke-width="1.5" fill="#fff"/>
<ellipse cx="527.8" cy="456.4" rx="3.6" ry="3.9" stroke-width="1.8" />
<line x1="524.8" y1="456.4" x2="530.8" y2="456.4" stroke-width="1.4" />
<ellipse cx="541.2" cy="456.4" rx="3.6" ry="3.9" stroke-width="1.8" />
<line x1="538.2" y1="456.4" x2="544.2" y2="456.4" stroke-width="1.4" />
<rect x="519.2" y="467.5" width="30.7" height="10.4" stroke-width="1.5" fill="#fff"/>
<ellipse cx="527.8" cy="472.7" rx="3.6" ry="3.9" stroke-width="1.8" />
<line x1="524.8" y1="472.7" x2="530.8" y2="472.7" stroke-width="1.4" />
<ellipse cx="541.2" cy="472.7" rx="3.6" ry="3.9" stroke-width="1.8" />
<line x1="538.2" y1="472.7" x2="544.2" y2="472.7" stroke-width="1.4" />
<ellipse cx="531.3" cy="448.6" rx="1.9" ry="1.9" stroke-width="0.9" />
<ellipse cx="535.0" cy="448.6" rx="1.9" ry="1.9" stroke-width="0.9" />
<ellipse cx="538.7" cy="448.6" rx="1.9" ry="1.9" stroke-width="0.9" />
<ellipse cx="531.3" cy="464.6" rx="1.9" ry="1.9" stroke-width="0.9" />
<ellipse cx="535.0" cy="464.6" rx="1.9" ry="1.9" stroke-width="0.9" />
<ellipse cx="538.7" cy="464.6" rx="1.9" ry="1.9" stroke-width="0.9" />
<path d="M504.9,456.6 C505.2,455.6 506.2,452.7 506.8,450.8 C507.4,448.9 507.6,446.6 508.7,445.0 C509.8,443.4 511.8,442.0 513.5,441.2 C515.2,440.4 518.2,440.4 519.2,440.3" stroke-width="2.0" />
<path d="M504.9,456.6 C505.2,457.9 505.9,461.8 506.8,464.2 C507.8,466.6 508.5,469.3 510.6,470.9 C512.7,472.5 517.8,473.3 519.2,473.8" stroke-width="1.5" />
<line x1="509.0" y1="456.6" x2="519.2" y2="456.6" stroke-width="1.5" />
<rect x="563.8" y="439.5" width="5.2" height="2.8" stroke-width="0.9"/>
<line x1="569.0" y1="439.6" x2="591.0" y2="439.6" stroke-width="0.9" />
<line x1="569.0" y1="442.2" x2="591.0" y2="442.2" stroke-width="0.9" />
<rect x="563.8" y="472.3" width="5.2" height="2.8" stroke-width="0.9"/>
<line x1="569.0" y1="472.4" x2="591.0" y2="472.4" stroke-width="0.9" />
<line x1="569.0" y1="475.0" x2="591.0" y2="475.0" stroke-width="0.9" />
<rect x="563.8" y="455.7" width="5.2" height="2.8" stroke-width="0.9"/>
<path d="M569,456 L595,455.2 L595,457.8 L569,458.4 Z" stroke-width="0.6" fill="#000"/>
<text transform="translate(554.6 438.6) rotate(90)" style="font-size:7px;stroke:none;font-weight:bold;font-family:Liberation Sans,sans-serif">L</text>
<text transform="translate(554.2 471) rotate(90)" style="font-size:7px;stroke:none;font-weight:bold;font-family:Liberation Sans,sans-serif">N</text>
<ellipse cx="556.6" cy="457.1" rx="2.6" ry="2.6" stroke-width="1.0" />
<line x1="554.0" y1="457.1" x2="559.2" y2="457.1" stroke-width="0.9" />
<line x1="556.6" y1="454.5" x2="556.6" y2="459.7" stroke-width="0.9" />
<ellipse cx="512.9" cy="464.2" rx="2.3" ry="2.3" stroke-width="1.0" />
<line x1="510.6" y1="464.2" x2="515.2" y2="464.2" stroke-width="0.8" />
<line x1="512.9" y1="461.9" x2="512.9" y2="466.5" stroke-width="0.8" />
<text transform="translate(499.5 439.5) rotate(60)" style="font-size:6px;stroke:none;font-family:Liberation Sans,sans-serif">L</text>
<text transform="translate(498.5 477) rotate(-50)" style="font-size:6px;stroke:none;font-family:Liberation Sans,sans-serif">N</text>
<rect x="534.9" y="391" width="5.4" height="19" rx="1.5" stroke-width="1" fill="#fff"/>
<line x1="536.6" y1="392.0" x2="536.6" y2="409.5" stroke-width="0.7" stroke="#444"/>
<line x1="538.6" y1="392.0" x2="538.6" y2="409.5" stroke-width="0.7" stroke="#444"/>
<path d="M534.2,410 L541,410 L541,412 L539,413.2 L536.2,413.2 L534.2,412 Z" stroke-width="1.0" fill="#fff"/>
<line x1="536.5" y1="413.2" x2="536.5" y2="432.0" stroke-width="0.9" />
<line x1="538.7" y1="413.2" x2="538.7" y2="432.0" stroke-width="0.9" />
<path d="M536.5,432 L537.6,435 L538.7,432" stroke-width="0.9" />
<path d="M540.5,417.6 Q548.8,418.2 548.8,421.3 Q548.8,424.6 540.5,424.9 M534.6,424.9 Q526.4,424.4 526.4,421.2 Q526.4,418.2 534.6,417.6 M534.6,419.4 Q529.2,419.8 529.2,421.3 Q529.2,422.6 531.5,423.4" stroke-width="1.0" />
<path d="M540.5,424.8 L545,423 L545,426.6 Z" stroke-width="0.5" fill="#000"/>
<text transform="translate(513.8 421.2) scale(0.88 1)" style="font-size:17.4px;stroke-width:0.55px">5</text>
<line x1="554.3" y1="411.6" x2="554.3" y2="430.0" stroke-width="1.7" />
<path d="M554.3,435 L552.8,428.5 L555.8,428.5 Z" stroke-width="0.5" fill="#000"/>
<line x1="560.5" y1="487.0" x2="541.0" y2="487.0" stroke-width="2.2" />
<path d="M535,487.2 L542,485.4 L542,489 Z" stroke-width="0.5" fill="#000"/>
<text transform="translate(561.6 495.7) scale(0.87 1)" style="font-size:18.8px;stroke-width:0.65px">4</text>
</g></svg>
</body></html>
